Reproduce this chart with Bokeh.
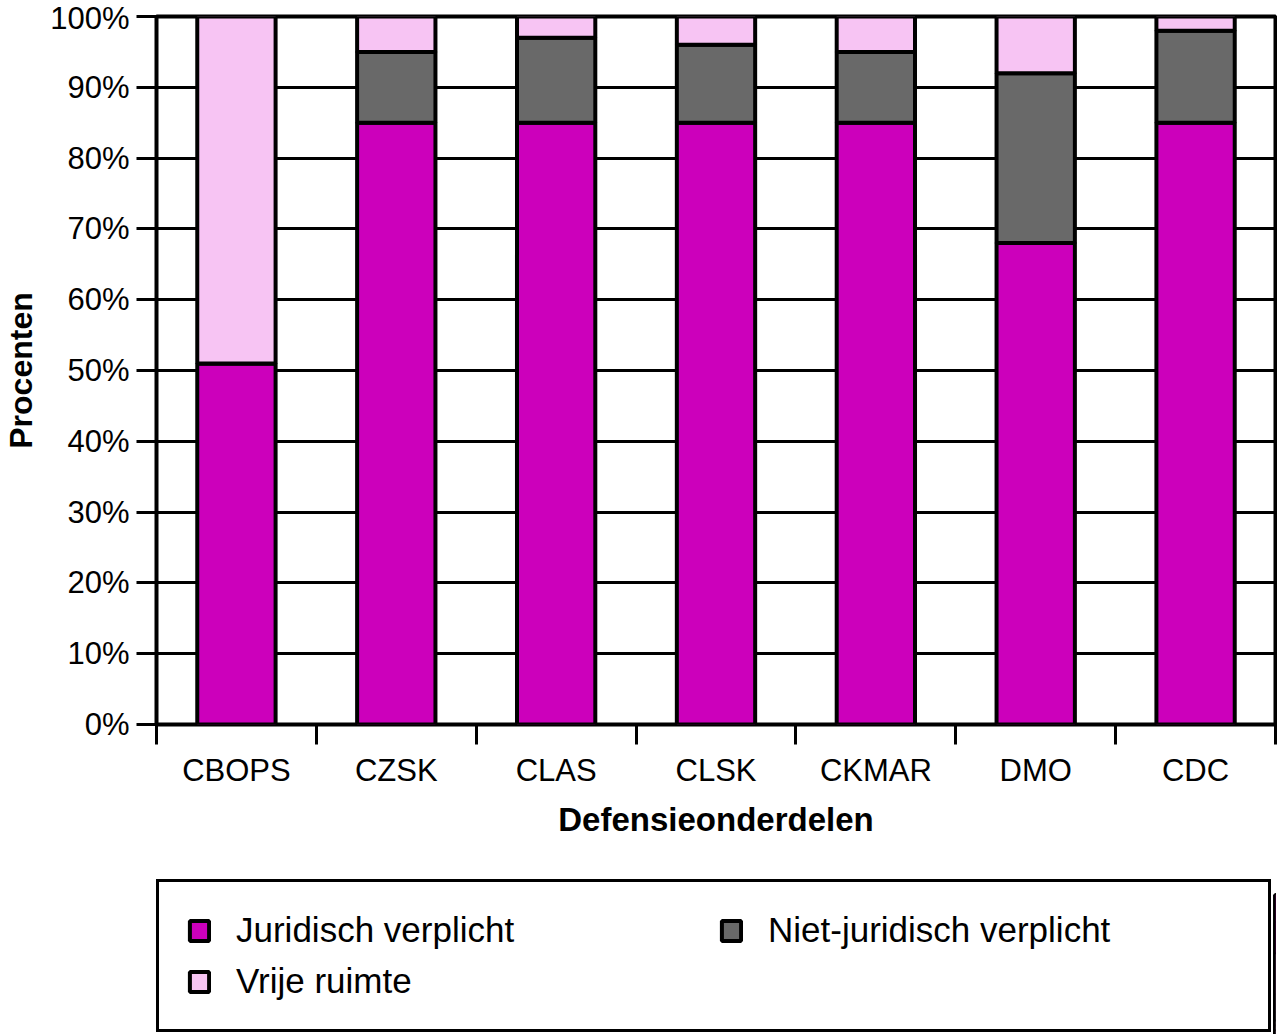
from bokeh.plotting import figure
from bokeh.layouts import column
from bokeh.models import (ColumnDataSource, Legend, LegendItem, FixedTicker, Range1d,
                          PrintfTickFormatter)
from bokeh.embed import file_html
from bokeh.resources import INLINE

categories = ["CBOPS", "CZSK", "CLAS", "CLSK", "CKMAR", "DMO", "CDC"]
juridisch = [51, 85, 85, 85, 85, 68, 85]
niet_juridisch = [0, 10, 12, 11, 10, 24, 13]
vrije_ruimte = [49, 5, 3, 4, 5, 8, 2]
series_names = ["Juridisch verplicht", "Niet-juridisch verplicht", "Vrije ruimte"]
y_ticks = [0, 10, 20, 30, 40, 50, 60, 70, 80, 90, 100]

colors = ["#CC00BB", "#696969", "#F7C4F3"]
FONT = "Liberation Sans"

centers = [i + 0.5 for i in range(len(categories))]
edges = list(range(len(categories) + 1))

src = ColumnDataSource(dict(x=centers, cat=categories, jur=juridisch, niet=niet_juridisch, vrij=vrije_ruimte))
stackers = ["jur", "niet", "vrij"]

W = 1277
p = figure(x_range=Range1d(0, len(categories)), y_range=Range1d(0, 100),
           width=W, height=870,
           output_backend="svg", toolbar_location=None,
           min_border_left=155, min_border_top=16, min_border_right=2, min_border_bottom=146)

renderers = p.vbar_stack(stackers, x="x", width=0.49, color=colors,
                         line_color="black", line_width=4, source=src)

p.outline_line_color = "black"
p.outline_line_width = 4
p.xgrid.grid_line_color = None
p.ygrid.grid_line_color = "black"
p.ygrid.grid_line_width = 3
p.ygrid.ticker = FixedTicker(ticks=y_ticks)

ya = p.yaxis[0]
ya.ticker = FixedTicker(ticks=y_ticks)
ya.formatter = PrintfTickFormatter(format="%d%%")
ya.axis_label = "Procenten"
ya.axis_label_text_font = FONT
ya.axis_label_text_font_style = "bold"
ya.axis_label_text_font_size = "32px"
ya.axis_label_text_color = "black"
ya.axis_label_standoff = 8
ya.major_label_text_font = FONT
ya.major_label_text_font_size = "31px"
ya.major_label_text_color = "black"
ya.major_label_standoff = 7
ya.major_tick_out = 20
ya.major_tick_in = 0
ya.major_tick_line_width = 3
ya.minor_tick_line_color = None
ya.axis_line_color = None

xa = p.xaxis[0]
xa.ticker = FixedTicker(ticks=centers, minor_ticks=edges)
xa.major_label_overrides = {c: name for c, name in zip(centers, categories)}
xa.major_tick_line_color = None
xa.major_tick_out = 0
xa.major_tick_in = 0
xa.minor_tick_out = 20
xa.minor_tick_in = 0
xa.minor_tick_line_width = 3
xa.minor_tick_line_color = "black"
xa.axis_line_color = None
xa.major_label_text_font = FONT
xa.major_label_text_font_size = "31px"
xa.major_label_text_color = "black"
xa.major_label_standoff = 8
xa.axis_label = "Defensieonderdelen"
xa.axis_label_text_font = FONT
xa.axis_label_text_font_style = "bold"
xa.axis_label_text_font_size = "33px"
xa.axis_label_text_color = "black"
xa.axis_label_standoff = 10

# legend panel below the chart (its frame is aligned with the chart frame by the column layout)
pl = figure(x_range=Range1d(-20, -10), y_range=Range1d(0, 100), width=W, height=164,
            output_backend="svg", toolbar_location=None,
            x_axis_location=None, y_axis_location=None,
            min_border_left=155, min_border_right=0, min_border_top=0, min_border_bottom=0)
pl.outline_line_color = None
pl.xgrid.grid_line_color = None
pl.ygrid.grid_line_color = None

# proxy renderers (outside the visible range) that supply the legend swatches
legend_renderers = [pl.vbar(x="x", top=s, width=0.49, source=src, fill_color=c,
                            line_color="black", line_width=4)
                    for s, c in zip(stackers, colors)]
items = [LegendItem(label=n, renderers=[r]) for n, r in zip(series_names, legend_renderers)]
legend = Legend(items=items, orientation="horizontal", ncols=2, location=(0, 2),
                label_text_font=FONT, label_text_font_size="35px", label_text_color="black",
                glyph_width=24, glyph_height=25, label_standoff=25, label_width=472,
                spacing=11, padding=28, margin=0,
                border_line_color="black", border_line_width=3, border_line_alpha=1.0,
                background_fill_color="white", background_fill_alpha=1.0)
pl.add_layout(legend, "center")

layout = column(p, pl, spacing=0)
open("out.html", "w").write(file_html(layout, INLINE))
